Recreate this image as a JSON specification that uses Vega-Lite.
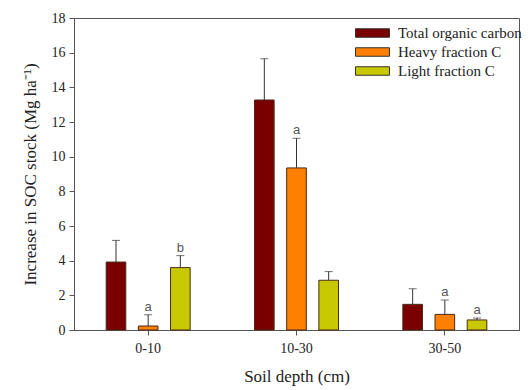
{
  "$schema": "https://vega.github.io/schema/vega-lite/v6.json",
  "width": 445,
  "height": 312,
  "autosize": {"type": "none"},
  "padding": {"left": 74, "top": 18, "right": 12, "bottom": 60},
  "background": "white",
  "config": {
    "view": {"stroke": "#555", "strokeWidth": 1},
    "font": "Liberation Serif",
    "axis": {"labelFont": "Liberation Serif", "titleFont": "Liberation Serif", "labelFontSize": 14, "titleFontSize": 17, "titleFontWeight": "normal", "labelColor": "#222", "titleColor": "#222", "domainColor": "#555", "tickColor": "#555", "grid": false, "tickSize": 5},
    "axisY": {"labelOverlap": false, "labelFlush": false}
  },
  "data": {"values": [
    {"depth": "0-10", "fraction": "Total organic carbon", "value": 3.92, "err": 5.17, "label": ""},
    {"depth": "0-10", "fraction": "Heavy fraction C", "value": 0.23, "err": 0.88, "label": "a"},
    {"depth": "0-10", "fraction": "Light fraction C", "value": 3.6, "err": 4.29, "label": "b"},
    {"depth": "10-30", "fraction": "Total organic carbon", "value": 13.27, "err": 15.65, "label": ""},
    {"depth": "10-30", "fraction": "Heavy fraction C", "value": 9.35, "err": 11.06, "label": "a"},
    {"depth": "10-30", "fraction": "Light fraction C", "value": 2.87, "err": 3.37, "label": ""},
    {"depth": "30-50", "fraction": "Total organic carbon", "value": 1.48, "err": 2.38, "label": ""},
    {"depth": "30-50", "fraction": "Heavy fraction C", "value": 0.9, "err": 1.73, "label": "a"},
    {"depth": "30-50", "fraction": "Light fraction C", "value": 0.58, "err": 0.69, "label": "a"}
  ]},
  "encoding": {
    "x": {"field": "depth", "type": "nominal", "sort": null, "scale": {"paddingInner": 0, "paddingOuter": 0}, "axis": {"title": "Soil depth (cm)", "labelAngle": 0, "labelPadding": 6, "titlePadding": 13}},
    "xOffset": {"field": "fraction", "type": "nominal", "sort": ["Total organic carbon", "Heavy fraction C", "Light fraction C"], "scale": {"paddingInner": 0.39, "paddingOuter": 1.2}},
    "y": {"field": "value", "type": "quantitative", "scale": {"domain": [0, 18], "nice": false}, "axis": {"title": "Increase in SOC stock (Mg ha⁻¹)", "values": [0, 2, 4, 6, 8, 10, 12, 14, 16, 18], "labelOverlap": false, "labelFlush": false, "labelPadding": 4, "titlePadding": 12}}
  },
  "layer": [
    {
      "mark": {"type": "rule", "color": "#333", "strokeWidth": 1},
      "encoding": {
        "y2": {"field": "err"}
      }
    },
    {
      "mark": {"type": "tick", "color": "#333", "thickness": 1, "size": 8},
      "encoding": {
        "y": {"field": "err", "type": "quantitative"}
      }
    },
    {
      "mark": {"type": "bar", "stroke": "#4a2a1a", "strokeWidth": 1},
      "encoding": {
        "color": {"field": "fraction", "type": "nominal", "sort": ["Total organic carbon", "Heavy fraction C", "Light fraction C"],
          "scale": {"domain": ["Total organic carbon", "Heavy fraction C", "Light fraction C"], "range": ["#7a0000", "#ff8000", "#c8c800"]},
          "legend": {"title": null, "orient": "none", "legendX": 289.5, "legendY": 6, "padding": 0, "symbolType": "M-2,-0.5L2,-0.5L2,0.5L-2,0.5Z", "symbolSize": 289, "symbolStrokeColor": "#333", "symbolStrokeWidth": 1, "symbolOpacity": 1, "labelFont": "Liberation Serif", "labelFontSize": 15, "labelColor": "#222", "labelOffset": 16.5, "rowPadding": 2}}
      }
    },
    {
      "mark": {"type": "text", "font": "Liberation Sans", "fontSize": 13, "color": "#555", "dy": -8},
      "encoding": {
        "y": {"field": "err", "type": "quantitative"},
        "text": {"field": "label"}
      }
    }
  ]
}
